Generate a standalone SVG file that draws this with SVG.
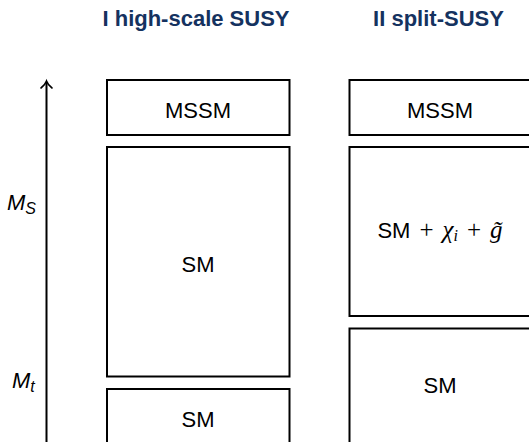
<svg xmlns="http://www.w3.org/2000/svg" width="529" height="442" viewBox="0 0 529 442">
<style>
.box{fill:#fff;stroke:#000;stroke-width:2}
.t{font-family:"Liberation Sans",Arial,sans-serif;font-size:22px;fill:#000;text-anchor:middle}
.title{font-family:"Liberation Sans",Arial,sans-serif;font-size:22px;font-weight:bold;fill:#15325f;text-anchor:middle}
.m{font-family:"Liberation Sans",Arial,sans-serif;font-style:italic;font-size:22px;fill:#000}
.s{font-family:"Liberation Serif","Times New Roman",serif;font-size:25px}
.sub{font-size:16px}
</style>
<rect width="529" height="442" fill="#fff"/>
<g id="titles">
<text class="title" x="196" y="26">I high-scale SUSY</text>
<text class="title" x="438.5" y="26">II split-SUSY</text>
</g>
<g id="connectors">
<line x1="46.5" y1="82" x2="46.5" y2="442" stroke="#000" stroke-width="2"/>
<path d="M41,88 Q45,85 46.5,81 Q48,85 52,88" fill="none" stroke="#000" stroke-width="1.6" stroke-linecap="round"/>
</g>
<g id="labels">
<text class="m" x="7" y="210">M<tspan class="sub" dy="4">S</tspan></text>
<text class="m" x="12" y="388">M<tspan class="sub" dy="4">t</tspan></text>
</g>
<g id="n1-mssm">
<rect class="box" x="107" y="80" width="182.5" height="55"/>
<text class="t" x="198" y="118">MSSM</text>
</g>
<g id="n1-sm-high">
<rect class="box" x="107" y="147" width="182.5" height="229.5"/>
<text class="t" x="198" y="272">SM</text>
</g>
<g id="n1-sm-low">
<rect class="box" x="107" y="389" width="182.5" height="60"/>
<text class="t" x="198" y="427">SM</text>
</g>
<g id="n2-mssm">
<rect class="box" x="349.5" y="80" width="190" height="55"/>
<text class="t" x="440" y="118">MSSM</text>
</g>
<g id="n2-split">
<rect class="box" x="349.5" y="147" width="190" height="169"/>
<text class="t" x="440" y="238">SM<tspan class="s" dx="9">+</tspan><tspan class="s" font-style="italic" dx="9">χ</tspan><tspan class="s sub" font-style="italic" dy="3">i</tspan><tspan class="s" dy="-3" dx="9">+</tspan><tspan class="s" font-style="italic" dx="9">g̃</tspan></text>
</g>
<g id="n2-sm">
<rect class="box" x="349.5" y="328.5" width="190" height="120"/>
<text class="t" x="440" y="393">SM</text>
</g>
</svg>
